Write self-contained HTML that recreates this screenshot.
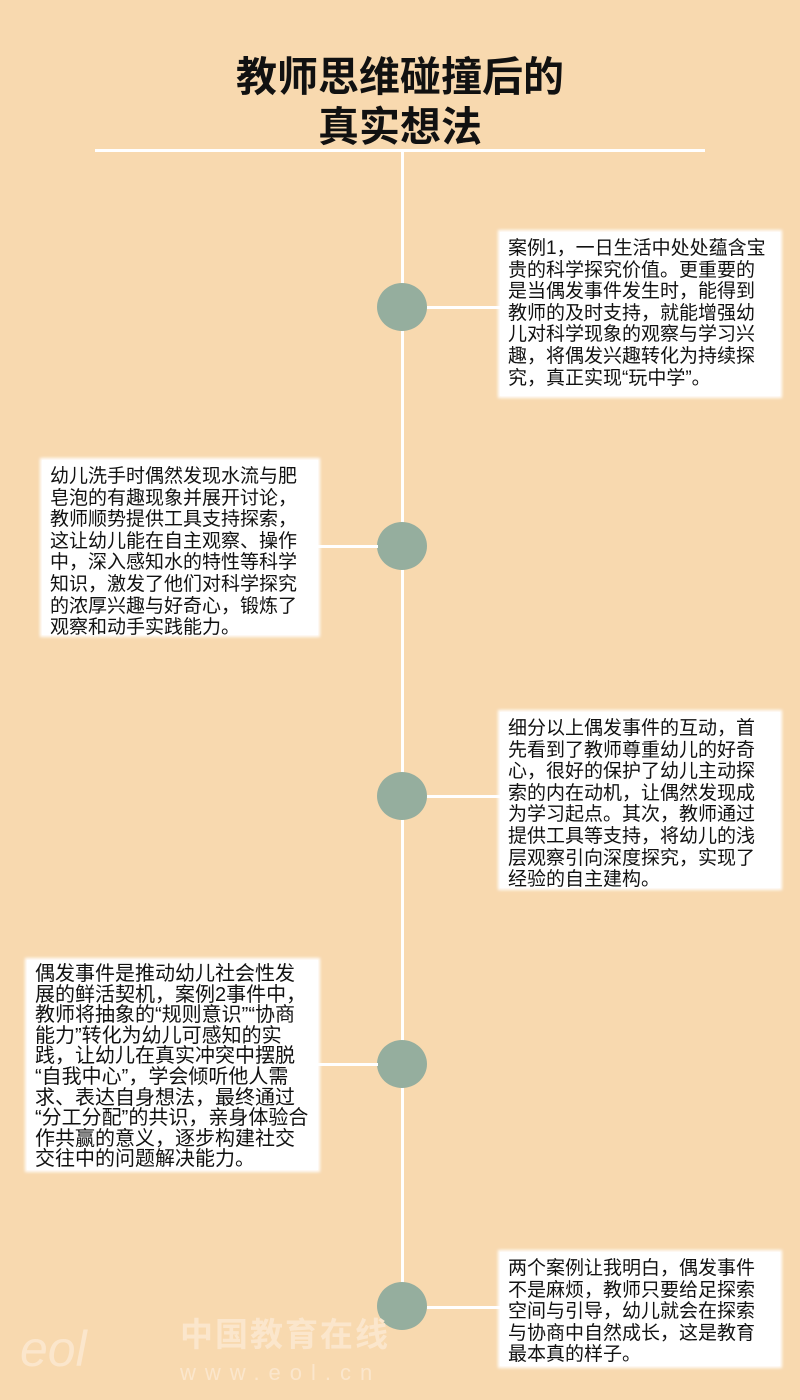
<!DOCTYPE html>
<html><head><meta charset="utf-8"><style>
body{margin:0;width:800px;height:1400px;background:#F8D9AF;position:relative;overflow:hidden;font-family:"Liberation Sans","Noto Sans CJK SC",sans-serif;}
.t{position:absolute;left:0;width:800px;text-align:center;font-weight:bold;font-size:41px;color:#111;line-height:50px;}
.hl{position:absolute;left:95px;width:610px;top:149px;height:3px;background:#fff;}
.vl{position:absolute;left:401px;width:3px;top:150px;height:1135px;background:#fff;}
.c{position:absolute;left:377px;width:50px;height:48px;border-radius:50%;background:#95AE9E;}
.ln{position:absolute;height:3px;background:#fff;}
.b{position:absolute;background:#fff;color:#111;font-size:19px;line-height:21.6px;padding:6px 8px;box-sizing:border-box;box-shadow:0 0 3px 2px #fff;white-space:nowrap;}
</style></head><body>
<div class="t" style="top:52px">教师思维碰撞后的<br>真实想法</div>
<div class="hl"></div><div class="vl"></div>
<div class="c" style="top:283px"></div><div class="ln" style="left:427px;width:73px;top:306px"></div>
<div class="c" style="top:522px"></div><div class="ln" style="left:318px;width:60px;top:545px"></div>
<div class="c" style="top:772px"></div><div class="ln" style="left:427px;width:73px;top:795px"></div>
<div class="c" style="top:1040px"></div><div class="ln" style="left:318px;width:60px;top:1063px"></div>
<div class="c" style="top:1282px"></div><div class="ln" style="left:427px;width:73px;top:1306px"></div>
<div class="b" style="left:500px;top:232px;width:280px;height:164px">案例1，一日生活中处处蕴含宝<br>贵的科学探究价值。更重要的<br>是当偶发事件发生时，能得到<br>教师的及时支持，就能增强幼<br>儿对科学现象的观察与学习兴<br>趣，将偶发兴趣转化为持续探<br>究，真正实现“玩中学”。</div>
<div class="b" style="left:42px;top:460px;width:276px;height:175px">幼儿洗手时偶然发现水流与肥<br>皂泡的有趣现象并展开讨论，<br>教师顺势提供工具支持探索，<br>这让幼儿能在自主观察、操作<br>中，深入感知水的特性等科学<br>知识，激发了他们对科学探究<br>的浓厚兴趣与好奇心，锻炼了<br>观察和动手实践能力。</div>
<div class="b" style="left:500px;top:712px;width:280px;height:176px">细分以上偶发事件的互动，首<br>先看到了教师尊重幼儿的好奇<br>心，很好的保护了幼儿主动探<br>索的内在动机，让偶然发现成<br>为学习起点。其次，教师通过<br>提供工具等支持，将幼儿的浅<br>层观察引向深度探究，实现了<br>经验的自主建构。</div>
<div class="b" style="left:27px;top:960px;width:291px;height:210px;font-size:20px;line-height:20.6px;padding-top:4px">偶发事件是推动幼儿社会性发<br>展的鲜活契机，案例2事件中，<br>教师将抽象的“规则意识”“协商<br>能力”转化为幼儿可感知的实<br>践，让幼儿在真实冲突中摆脱<br>“自我中心”，学会倾听他人需<br>求、表达自身想法，最终通过<br>“分工分配”的共识，亲身体验合<br>作共赢的意义，逐步构建社交<br>交往中的问题解决能力。</div>
<div class="b" style="left:500px;top:1252px;width:280px;height:114px">两个案例让我明白，偶发事件<br>不是麻烦，教师只要给足探索<br>空间与引导，幼儿就会在探索<br>与协商中自然成长，这是教育<br>最本真的样子。</div>
<div style="position:absolute;left:180px;top:1308px;font-size:33px;color:#FBE6CC;font-weight:bold;letter-spacing:2px">中国教育在线</div>
<div style="position:absolute;left:180px;top:1360px;font-size:22px;color:#FBE6CC;letter-spacing:9px">www.eol.cn</div>
<div style="position:absolute;left:20px;top:1320px;font-size:50px;color:#FBE6CC;font-style:italic">eol</div>
</body></html>
